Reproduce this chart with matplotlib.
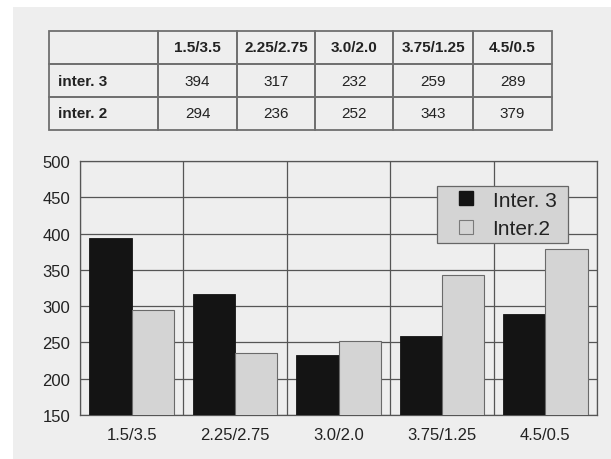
import matplotlib
matplotlib.use("Agg")
import matplotlib.pyplot as plt
from matplotlib.patches import Rectangle
from matplotlib.lines import Line2D

plt.rcParams['font.family'] = ['Liberation Sans', 'DejaVu Sans']

categories = ["1.5/3.5", "2.25/2.75", "3.0/2.0", "3.75/1.25", "4.5/0.5"]
inter3 = [394, 317, 232, 259, 289]
inter2 = [294, 236, 252, 343, 379]
row_labels = ["inter. 3", "inter. 2"]
legend_labels = ["Inter. 3", "Inter.2"]
yticks = [150, 200, 250, 300, 350, 400, 450, 500]

W, H = 611, 460
bg = "#eeeeee"
dark_col = "#141414"
light_col = "#d4d4d4"
fig = plt.figure(figsize=(W / 100, H / 100), dpi=100, facecolor=bg)
fig.patches.append(Rectangle((0, 0), 13 / W, 1, transform=fig.transFigure,
                             facecolor="white", edgecolor="none", zorder=-1))
fig.patches.append(Rectangle((0, 1 - 8 / H), 1, 8 / H, transform=fig.transFigure,
                             facecolor="white", edgecolor="none", zorder=-1))


def px_axes(x0, y0, x1, y1):
    return fig.add_axes([x0 / W, 1 - y1 / H, (x1 - x0) / W, (y1 - y0) / H])


# ---- data table ----
tax = px_axes(49, 32, 552, 131)
tax.axis("off")
cell_text = [[""] + categories]
for lab, vals in zip(row_labels, [inter3, inter2]):
    cell_text.append([lab] + [str(v) for v in vals])
col_w = [109, 79, 78, 78, 80, 79]
tot = sum(col_w)
tbl = tax.table(cellText=cell_text, colWidths=[c / tot for c in col_w],
                bbox=[0, 0, 1, 1], cellLoc="center")
tbl.auto_set_font_size(False)
for (r, c), cell in tbl.get_celld().items():
    cell.set_edgecolor("#6f6f6f")
    cell.set_linewidth(1.3)
    cell.set_facecolor("none")
    txt = cell.get_text()
    txt.set_fontsize(11)
    txt.set_color("#222222")
    if r == 0 or c == 0:
        txt.set_fontweight("bold")
    if c == 0:
        cell.set_text_props(ha="left")
        cell.PAD = 0.08

# ---- bar chart ----
ax = px_axes(80, 162, 597, 416)
ax.set_facecolor(bg)
x = range(len(categories))
w = 0.41
ax.bar([i - w / 2 for i in x], inter3, width=w, color=dark_col,
       edgecolor=dark_col, linewidth=0.6, zorder=3)
ax.bar([i + w / 2 for i in x], inter2, width=w, color=light_col,
       edgecolor="#6a6a6a", linewidth=0.8, zorder=3)

ax.set_xlim(-0.5, len(categories) - 0.5)
ax.set_ylim(yticks[0], yticks[-1])
ax.set_yticks(yticks)
ax.set_xticks(list(x))
ax.set_xticklabels(categories)
ax.set_xticks([i + 0.5 for i in range(-1, len(categories))], minor=True)
ax.tick_params(axis="both", which="both", length=0, labelsize=12,
               labelcolor="#222222")
ax.tick_params(axis="x", pad=9)
ax.tick_params(axis="y", pad=7)
ax.grid(axis="y", which="major", color="#555555", linewidth=0.9, zorder=1)
ax.grid(axis="x", which="minor", color="#555555", linewidth=0.9, zorder=1)
ax.grid(axis="x", which="major", visible=False)
for s in ax.spines.values():
    s.set_color("#555555")
    s.set_linewidth(0.9)

handles = [
    Line2D([], [], linestyle="none", marker="s", markersize=10,
           markerfacecolor=dark_col, markeredgecolor=dark_col),
    Line2D([], [], linestyle="none", marker="s", markersize=10,
           markerfacecolor=light_col, markeredgecolor="#7a7a7a",
           markeredgewidth=0.8),
]
leg = ax.legend(handles, legend_labels, loc="upper left",
                bbox_to_anchor=(0.6905, 0.0, 0.2535, 0.9016), mode="expand",
                fontsize=15, frameon=True, fancybox=False,
                handlelength=2.35, handletextpad=0.1,
                labelspacing=0.45, borderpad=0.22, borderaxespad=0,
                framealpha=1)
leg.get_frame().set_facecolor("#d4d4d4")
leg.get_frame().set_edgecolor("#666666")
leg.get_frame().set_linewidth(0.9)
for t in leg.get_texts():
    t.set_color("#222222")

fig.savefig("out.png", dpi=100, facecolor=fig.get_facecolor())
